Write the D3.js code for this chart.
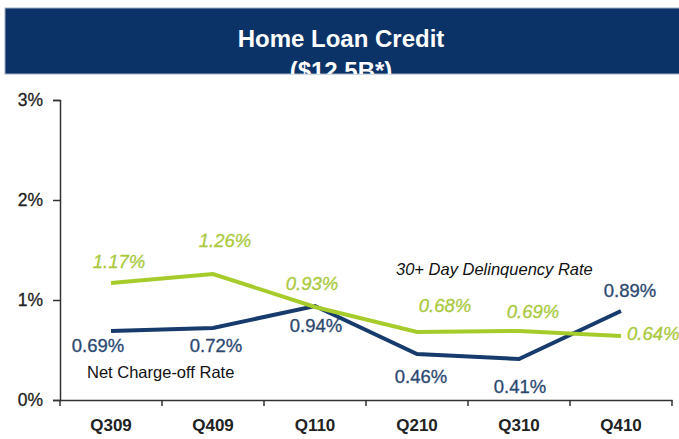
<!DOCTYPE html>
<html><head><meta charset="utf-8">
<script src="https://cdn.jsdelivr.net/npm/d3@7"></script>
<style>body{margin:0;background:#fff}svg{display:block}</style>
</head><body>
<script>
const categories = ["Q309","Q409","Q110","Q210","Q310","Q410"];
const delinquency = [1.17,1.26,0.93,0.68,0.69,0.64];
const chargeOff = [0.69,0.72,0.94,0.46,0.41,0.89];
const yTicks = [0,1,2,3];
const titleLines = ["Home Loan Credit","($12.5B*)"];

const W=679,H=439;
const svg=d3.select("body").append("svg").attr("width",W).attr("height",H);
const font="Liberation Sans, Arial, sans-serif";

// title box
svg.append("clipPath").attr("id","tb").append("rect").attr("x",5).attr("y",8).attr("width",680).attr("height",66);
svg.append("rect").attr("x",5).attr("y",8).attr("width",680).attr("height",66).attr("fill","#0c3367").attr("stroke","#9fb0c4").attr("stroke-width",1);
const tg=svg.append("g").attr("clip-path","url(#tb)");
tg.append("text").attr("x",341).attr("y",47).attr("text-anchor","middle").attr("fill","#fff")
  .attr("font-family",font).attr("font-weight","bold").attr("font-size",24).text(titleLines[0]);
tg.append("text").attr("x",341).attr("y",79).attr("text-anchor","middle").attr("fill","#fff")
  .attr("font-family",font).attr("font-weight","bold").attr("font-size",24).text(titleLines[1]);

const x=d3.scaleBand().domain(categories).range([60,672]);
const y=d3.scaleLinear().domain([0,3]).range([400,100]);

// y axis
const ya=svg.append("g").attr("transform","translate(60,0)")
  .call(d3.axisLeft(y).tickValues(yTicks).tickFormat(d=>d+"%").tickSize(7).tickPadding(10));
ya.select(".domain").attr("stroke","#333").attr("stroke-width",1.5);
ya.selectAll(".tick line").attr("stroke","#333").attr("stroke-width",1.5);
ya.selectAll("text").attr("font-family",font).attr("font-size",17.5).attr("fill","#222")
  .attr("stroke","#222").attr("stroke-width",0.3);

// x axis
const xa=svg.append("g").attr("transform","translate(0,400)")
  .call(d3.axisBottom(x).tickSize(0).tickPadding(19));
xa.select(".domain").attr("stroke","#333").attr("stroke-width",1.5);
xa.selectAll("text").attr("font-family",font).attr("font-size",17).attr("font-weight","bold").attr("fill","#222");
const bounds=[...categories.map(c=>x(c)),x(categories[categories.length-1])+x.bandwidth()];
svg.append("g").selectAll("line").data(bounds).join("line")
  .attr("x1",d=>d).attr("x2",d=>d).attr("y1",400).attr("y2",406).attr("stroke","#333").attr("stroke-width",1.5);

const cx=c=>x(c)+x.bandwidth()/2;
const line=d3.line().x((d,i)=>cx(categories[i])).y(d=>y(d));

svg.append("path").datum(chargeOff).attr("d",line).attr("fill","none").attr("stroke","#173b6c").attr("stroke-width",4);
svg.append("path").datum(delinquency).attr("d",line).attr("fill","none").attr("stroke","#a6cc2c").attr("stroke-width",4);

// labels (offsets relative to data point)
const dOff=[[8,-15,"middle"],[12,-27,"middle"],[-3,-17,"middle"],[28,-20,"middle"],[14,-13,"middle"],[6,4,"start"]];
const cOff=[[-13,21,"middle"],[3,24,"middle"],[1,26,"middle"],[4,29,"middle"],[1,34,"middle"],[9,-14,"middle"]];
svg.append("g").selectAll("text").data(delinquency).join("text")
  .attr("x",(d,i)=>cx(categories[i])+dOff[i][0]).attr("y",(d,i)=>y(d)+dOff[i][1])
  .attr("text-anchor",(d,i)=>dOff[i][2]).attr("font-family",font).attr("font-size",18.5)
  .attr("font-style","italic").attr("fill","#a9c93d").attr("stroke","#a9c93d").attr("stroke-width",0.3)
  .text(d=>d.toFixed(2)+"%");
svg.append("g").selectAll("text").data(chargeOff).join("text")
  .attr("x",(d,i)=>cx(categories[i])+cOff[i][0]).attr("y",(d,i)=>y(d)+cOff[i][1])
  .attr("text-anchor",(d,i)=>cOff[i][2]).attr("font-family",font).attr("font-size",18.5)
  .attr("fill","#2c4870").attr("stroke","#2c4870").attr("stroke-width",0.3)
  .text(d=>d.toFixed(2)+"%");

svg.append("text").attr("x",87).attr("y",378).attr("font-family",font).attr("font-size",16.5).attr("fill","#111").text("Net Charge-off Rate");
svg.append("text").attr("x",396).attr("y",275).attr("font-family",font).attr("font-size",16.5).attr("font-style","italic").attr("fill","#111").text("30+ Day Delinquency Rate");
</script>
</body></html>
